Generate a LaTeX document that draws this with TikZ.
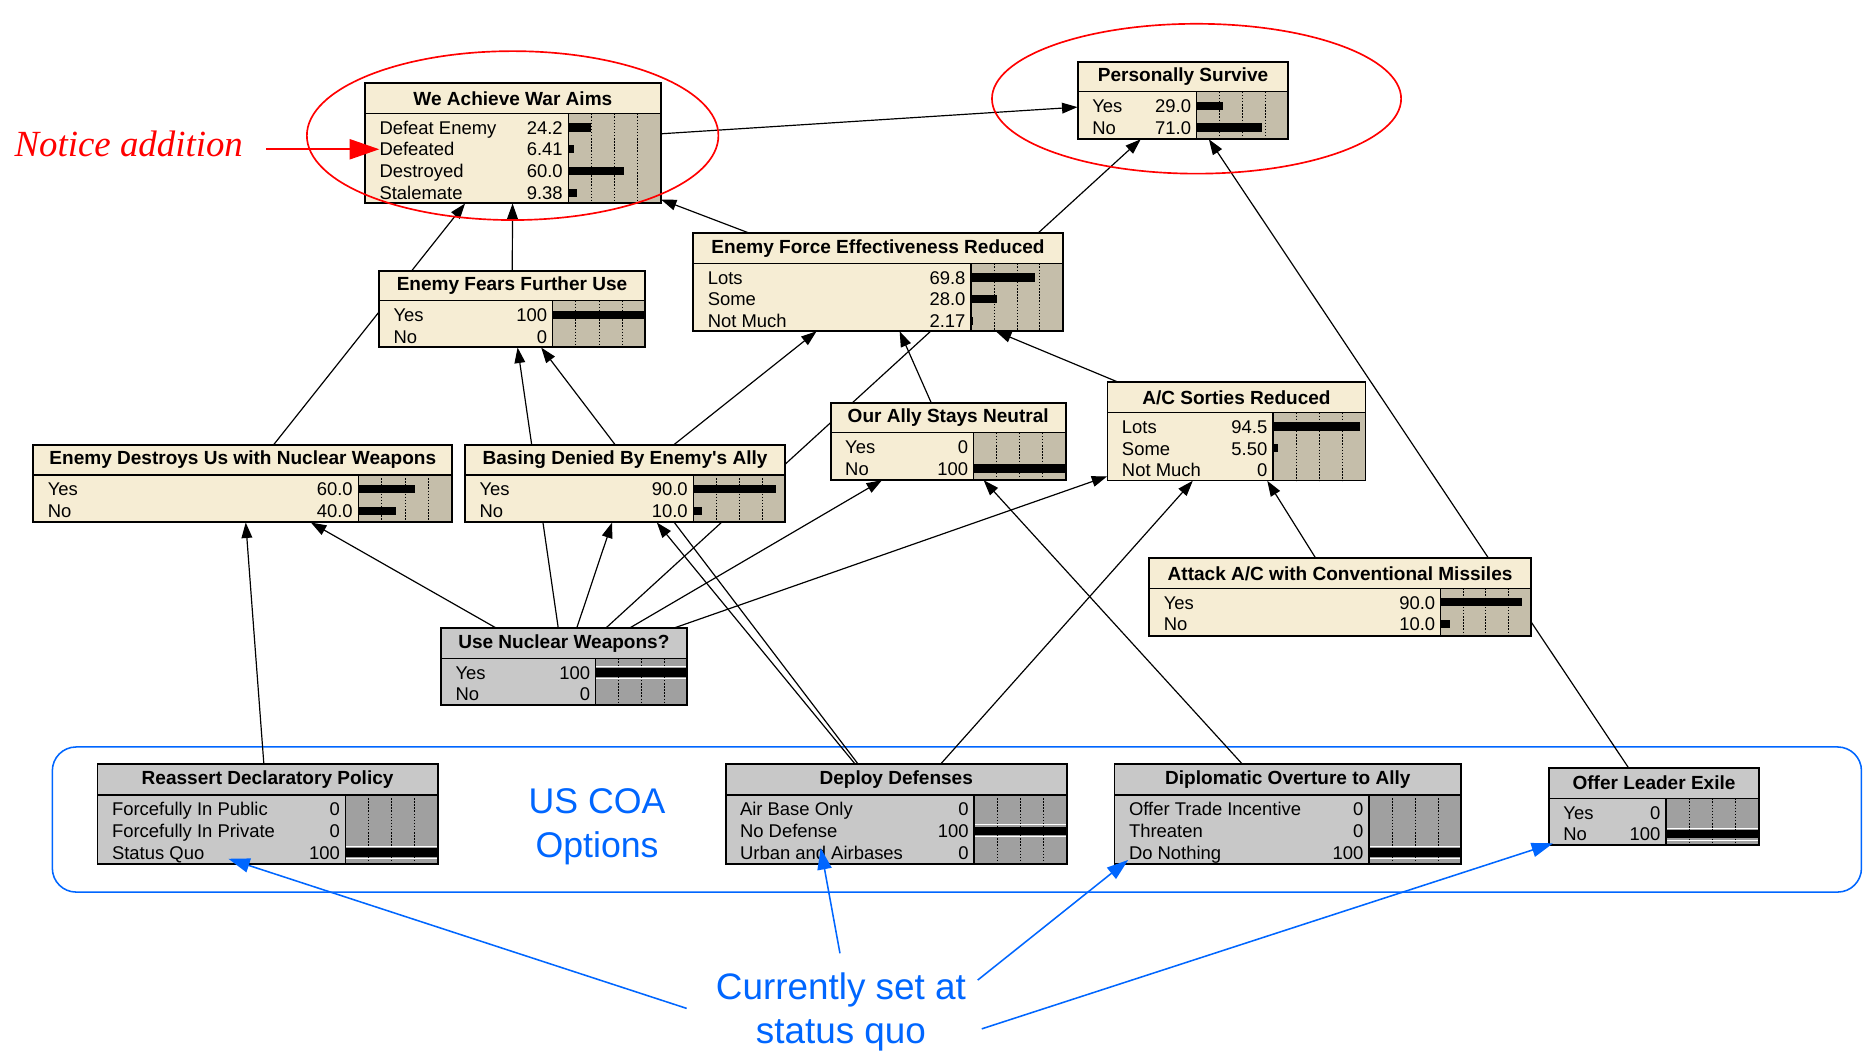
\documentclass[tikz,border=0pt]{standalone}
\usepackage{fontspec}
\setmainfont{Liberation Sans}
\newfontfamily\noteserif{Liberation Serif}
\usetikzlibrary{arrows.meta,fit}
\pgfdeclarelayer{back}
\pgfsetlayers{back,main}

\definecolor{chancebody}{RGB}{246,237,212}
\definecolor{chancebar}{RGB}{197,190,170}
\definecolor{decisionbody}{RGB}{200,200,200}
\definecolor{decisionbar}{RGB}{160,160,160}
\definecolor{coablue}{RGB}{0,102,255}
\definecolor{notered}{RGB}{255,0,0}

\tikzset{
  border/.style={draw=black, line width=1.6pt},
  sepline/.style={draw=black, line width=1.2pt},
  gridline/.style={draw=black, line width=0.6pt, dash pattern=on 1.2pt off 1.4pt},
  rowtext/.style={inner sep=0pt, font=\fontsize{15.5}{18}\selectfont},
  titletext/.style={inner sep=0pt, font=\bfseries\fontsize{16}{19}\selectfont},
  edge/.style={draw=black, line width=1pt, -{Triangle[length=13pt,width=9pt]}},
  chancehl/.style={draw=none},
  decisionhl/.style={draw=white, line width=0.8pt},
  bluearrow/.style={draw=coablue, line width=1.3pt, -{Triangle[length=18pt,width=12pt]}},
  bluetext/.style={text=coablue, inner sep=0pt, align=center},
  redarrow/.style={draw=notered, line width=1.4pt, -{Triangle[length=25pt,width=17pt]}},
  ring/.style={draw=notered, line width=1.4pt},
}

% geometry of the next belief box: left, top, right, bottom, title rule, bar column
\newcommand\netgeom[6]{\def\nL{#1}\def\nT{#2}\def\nR{#3}\def\nB{#4}\def\nS{#5}\def\nX{#6}}

% belief box: name, kind (chance|decision), title, rows label/value/percent
\newcommand\netnode[4]{%
  \node[fit={(\nL,\nT) (\nR,\nB)}, inner sep=0pt, fill=#2body] (#1) {};
  \fill[#2bar] (\nX,\nS) rectangle (\nR,\nB);
  \foreach \f in {0.25,0.5,0.75}
    \draw[gridline] ({\nX+\f*(\nR-\nX)},\nS) -- ({\nX+\f*(\nR-\nX)},\nB);
  \foreach \lab/\val/\pct [count=\i] in {#4} {
    \pgfmathsetmacro\yb{\nS+17.5+18.3*(\i-1)}
    \node[rowtext, anchor=base west] (#1-l\i) at (\nL+12,\yb) {\lab};
    \node[rowtext, anchor=base east] (#1-v\i) at (\nX-4.5,\yb) {\val};
    \ifdim\pct pt>0pt
      \fill[black] (\nX,\yb-9.2) rectangle ({\nX+\pct/100*(\nR-\nX)},\yb-2.2);
      \draw[#2hl] (\nX,\yb-10.8) -- (\nR,\yb-10.8) (\nX,\yb-0.6) -- (\nR,\yb-0.6);
    \fi
  }
  \draw[sepline] (\nL,\nS) -- (\nR,\nS) (\nX,\nS) -- (\nX,\nB);
  \node[titletext] (#1-t) at ({(\nL+\nR)/2},{(\nT+\nS)/2}) {#3};
  \draw[border] (\nL,\nT) rectangle (\nR,\nB);
}

\begin{document}
\begin{tikzpicture}[x=1pt,y=-1pt]
\useasboundingbox (0,0) rectangle (1568,884);

% ---- belief network ----
\netgeom{306.9}{70.0}{555.5}{170.9}{95.3}{477.8}
\netnode{WAA}{chance}{We Achieve War Aims}{Defeat Enemy/24.2/24.2, Defeated/6.41/6.41, Destroyed/60.0/60.0, Stalemate/9.38/9.38}

\netgeom{906.1}{51.9}{1083.2}{116.9}{77.1}{1006.1}
\netnode{PS}{chance}{Personally Survive}{Yes/29.0/29.0, No/71.0/71.0}

\netgeom{582.9}{196.2}{893.5}{278.3}{221.4}{816.4}
\netnode{EFER}{chance}{Enemy Force Effectiveness Reduced}{Lots/69.8/69.8, Some/28.0/28.0, Not Much/2.17/2.17}

\netgeom{318.7}{227.8}{542.3}{292.0}{252.8}{464.7}
\netnode{EF}{chance}{Enemy Fears Further Use}{Yes/100/100, No/0/0}

\netgeom{28.0}{374.1}{380.3}{439.1}{399.4}{301.2}
\netnode{ED}{chance}{Enemy Destroys Us with Nuclear Weapons}{Yes/60.0/60.0, No/40.0/40.0}

\netgeom{391.0}{374.1}{660.0}{439.1}{399.4}{582.9}
\netnode{BD}{chance}{Basing Denied By Enemy\textquotesingle s Ally}{Yes/90.0/90.0, No/10.0/10.0}

\netgeom{698.4}{338.5}{896.0}{403.5}{363.8}{818.6}
\netnode{OA}{chance}{Our Ally Stays Neutral}{Yes/0/0, No/100/100}

\netgeom{931.1}{321.5}{1148.0}{404.0}{346.8}{1070.2}
\netnode{AC}{chance}{A/C Sorties Reduced}{Lots/94.5/94.5, Some/5.50/5.50, Not Much/0/0}

\netgeom{966.3}{469.4}{1287.0}{534.7}{494.6}{1211.3}
\netnode{AT}{chance}{Attack A/C with Conventional Missiles}{Yes/90.0/90.0, No/10.0/10.0}

\netgeom{370.8}{528.3}{577.3}{592.7}{553.5}{500.8}
\netnode{UN}{decision}{Use Nuclear Weapons?}{Yes/100/100, No/0/0}

\netgeom{82.0}{642.5}{368.0}{726.5}{668.4}{290.4}
\netnode{RD}{decision}{Reassert Declaratory Policy}{Forcefully In Public/0/0, Forcefully In Private/0/0, Status Quo/100/100}

\netgeom{610.0}{642.5}{897.0}{726.5}{668.4}{819.0}
\netnode{DD}{decision}{Deploy Defenses}{Air Base Only/0/0, No Defense/100/100, Urban and Airbases/0/0}

\netgeom{937.0}{642.5}{1228.5}{726.5}{668.4}{1150.9}
\netnode{DO}{decision}{Diplomatic Overture to Ally}{Offer Trade Incentive/0/0, Threaten/0/0, Do Nothing/100/100}

\netgeom{1302.2}{645.4}{1479.0}{710.4}{671.2}{1400.6}
\netnode{OE}{decision}{Offer Leader Exile}{Yes/0/0, No/100/100}

% ---- links, drawn behind the boxes ----
\begin{pgfonlayer}{back}
  \node[fit={(44,628) (1565,750)}, inner sep=0pt, draw=coablue, line width=1.3pt, rounded corners=20pt] (coabox) {};
  \draw[edge] (WAA) -- (PS);
  \draw[edge] (ED) -- (WAA);
  \draw[edge] (EF) -- (WAA);
  \draw[edge] (EFER) -- (WAA);
  \draw[edge] (UN) -- (PS);
  \draw[edge] (OE) -- (PS);
  \draw[edge] (UN) -- (ED);
  \draw[edge] (UN) -- (EF);
  \draw[edge] (UN) -- (BD);
  \draw[edge] (UN) -- (OA);
  \draw[edge] (UN) -- (AC);
  \draw[edge] (DD) -- (BD);
  \draw[edge] (DD) -- (EF);
  \draw[edge] (DD) -- (AC);
  \draw[edge] (BD) -- (EFER);
  \draw[edge] (OA) -- (EFER);
  \draw[edge] (AC) -- (EFER);
  \draw[edge] (DO) -- (OA);
  \draw[edge] (AT) -- (AC);
  \draw[edge] (RD) -- (ED);
\end{pgfonlayer}

% ---- highlight of the new outcome ----
\draw[ring] (431,114) ellipse [x radius=173, y radius=71];
\draw[ring] (1006,83) ellipse [x radius=172, y radius=63];
\node[anchor=base west, inner sep=0pt, text=notered, font=\noteserif\itshape\fontsize{31}{36}\selectfont] (notice) at (12,131.5) {Notice addition};
\coordinate (na) at (224,125.5);
\draw[redarrow] (na) -- (na -| WAA-l2.west);

% ---- course of action group ----
\node[bluetext, anchor=base, font=\fontsize{30}{37}\selectfont] (coa) at (502,720.6) {US COA\\Options};
\node[bluetext, anchor=base, font=\fontsize{31}{37}\selectfont] (quo) at (707,877) {Currently set at\\status quo};
\coordinate (q1) at (577.3,847.8);
\coordinate (q2) at (706.2,801.5);
\coordinate (q3) at (822,824);
\coordinate (q4) at (825.4,865);
\coordinate (t1) at (192,722);
\coordinate (t2) at (690,713);
\coordinate (t3) at (948.5,723);
\coordinate (t4) at (1305.7,709);
\draw[bluearrow] (q1) -- (t1);
\draw[bluearrow] (q2) -- (t2);
\draw[bluearrow] (q3) -- (t3);
\draw[bluearrow] (q4) -- (t4);
\end{tikzpicture}
\end{document}
